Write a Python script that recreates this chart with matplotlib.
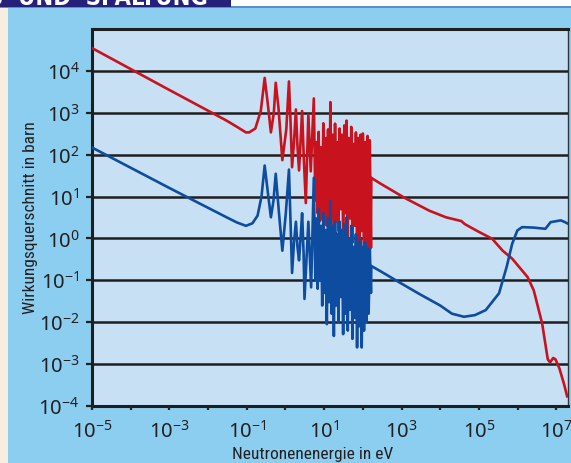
import matplotlib
matplotlib.use('Agg')
import matplotlib.pyplot as plt
from matplotlib.patches import Rectangle
from matplotlib.ticker import FixedLocator, NullLocator

# red curve, below the resonance region (eV, barn)
red_energy_low = [1e-5, 1e-3, 3e-2, 5.6e-2, 0.095, 0.115, 0.166, 0.23, 0.29,
                  0.35, 0.42, 0.50, 0.56, 0.66, 0.83, 1.05, 1.23, 1.35,
                  1.48, 1.66, 1.86, 2.04, 2.24, 2.45, 2.69, 2.95, 3.35,
                  3.9, 4.5, 5.4]
red_sigma_low = [3.5e4, 3.5e3, 6.5e2, 4.6e2, 3.4e2, 3.4e2, 4.2e2, 1.1e3,
                 6.8e3, 1.6e3, 3.4e2, 1.0e3, 5.2e3, 1.3e3, 74, 4.0e2, 5.6e3,
                 6.3e2, 50, 2.0e2, 1.2e3, 1.6e2, 42, 2.0e2, 1.1e3, 1.0e2, 7,
                 9.0e2, 40, 2.2e3]

# blue curve, below the resonance region
blue_energy_low = [1e-5, 1e-3, 3e-2, 5.6e-2, 0.095, 0.14, 0.19, 0.24, 0.29,
                   0.35, 0.42, 0.49, 0.56, 0.68, 0.83, 1.02, 1.23, 1.35,
                   1.48, 1.66, 1.86, 2.04, 2.24, 2.45, 2.69, 2.95, 3.1,
                   3.9, 4.6, 5.4]
blue_sigma_low = [148, 16, 3.2, 2.4, 2.0, 2.3, 3.5, 10, 55, 12.6, 3.2, 8,
                  35, 4, 0.51, 4, 44, 2.5, 0.15, 0.8, 2.5, 0.63, 0.3, 1.0,
                  4, 0.4, 0.036, 2.5, 0.068, 28]

# dense resonance region
resonance_energy = [5.9, 6.3, 6.8, 7.2, 7.8, 8.3, 8.9, 9.5, 10.2, 11.0,
                    11.7, 12.6, 13.5, 14.5, 15.5, 16.6, 17.8, 19.1, 20.4,
                    21.9, 23.4, 25.1, 26.9, 28.8, 30.9, 33.1, 35.5, 38.0,
                    40.7, 43.7, 46.8, 50.1, 53.7, 57.5, 61.7, 66.1, 70.8,
                    75.9, 81.3, 87.1, 93.3, 100, 107, 115, 123, 132, 141,
                    151, 162]
red_sigma_res = [8, 200, 4, 350, 2.6, 150, 3, 560, 3, 250,
                 2, 400, 3, 1800, 3, 300, 1.4, 550, 2.5, 200,
                 1.5, 420, 5, 300, 1.3, 500, 4, 650, 1.1, 250,
                 3, 460, 0.8, 180, 2, 340, 0.5, 250, 0.43, 300,
                 1.5, 320, 0.5, 200, 0.8, 280, 0.56, 220, 0.6]
blue_sigma_res = [0.1, 3, 0.063, 5, 0.1, 2, 0.025, 4, 0.05, 1.6,
                  0.009, 3, 0.03, 8, 0.016, 2, 0.0047, 2.5, 0.025, 1.3,
                  0.01, 2.5, 0.04, 1.6, 0.0052, 2.2, 0.016, 3.2, 0.0063, 1.0,
                  0.02, 2, 0.004, 0.63, 0.0126, 1.26, 0.0025, 0.8, 0.008, 1.0,
                  0.0025, 0.63, 0.0063, 0.8, 0.01, 0.56, 0.016, 0.56, 0.05]

# above the resonance region
red_energy_high = [165, 270, 1.2e3, 5.2e3, 1.4e4, 3.5e4, 4.3e4, 9.1e4,
                   2.2e5, 4.1e5, 7.2e5, 1.8e6, 2.6e6, 4.3e6, 6.0e6, 6.9e6,
                   8.3e6, 9.5e6, 1.2e7, 1.6e7, 1.9e7]
red_sigma_high = [28, 21, 9.3, 4.6, 3.2, 2.6, 2.2, 1.5, 0.98, 0.51, 0.33,
                  0.12, 0.058, 0.0093, 1.3e-3, 1.1e-3, 1.4e-3, 1.3e-3,
                  7.9e-4, 3.2e-4, 1.7e-4]
blue_energy_high = [165, 270, 850, 2.8e3, 1e4, 2e4, 4.1e4, 7.9e4, 1.5e5,
                    3.3e5, 5.2e5, 7.2e5, 9.8e5, 1.3e6, 2.5e6, 5.2e6, 6.0e6,
                    7.1e6, 1.3e7, 1.6e7, 1.9e7]
blue_sigma_high = [0.22, 0.17, 0.091, 0.048, 0.025, 0.016, 0.0135, 0.0148,
                   0.0195, 0.049, 0.21, 0.74, 1.55, 1.86, 1.82, 1.7, 2.0,
                   2.45, 2.7, 2.5, 2.3]

x_tick_exp = [-5, -4, -3, -2, -1, 0, 1, 2, 3, 4, 5, 6, 7]
x_label_exp = [-5, -3, -1, 1, 3, 5, 7]
y_tick_exp = [-4, -3, -2, -1, 0, 1, 2, 3, 4]

plt.rcParams['font.family'] = ['Roboto Condensed', 'Liberation Sans Narrow',
                               'Noto Sans', 'DejaVu Sans']
plt.rcParams['font.stretch'] = 'condensed'
plt.rcParams['mathtext.fontset'] = 'custom'
plt.rcParams['mathtext.rm'] = 'Noto Sans:stretch=condensed'
plt.rcParams['mathtext.it'] = 'Noto Sans:italic:stretch=condensed'
plt.rcParams['mathtext.bf'] = 'Noto Sans:bold:stretch=condensed'

W, H = 571, 463
fig = plt.figure(figsize=(W / 100, H / 100), dpi=100)
fig.patch.set_facecolor('#8CCEF0')

# page decoration: header bar, white strip, cream margin
fig.patches.append(Rectangle((0, 1 - 7 / H), 1, 7 / H, transform=fig.transFigure,
                             facecolor='white', edgecolor='none', zorder=0))
fig.patches.append(Rectangle((0, 1 - 7.5 / H), 1, 1.2 / H,
                             transform=fig.transFigure,
                             facecolor='#5A8FC8', edgecolor='none', zorder=0))
fig.patches.append(Rectangle((0, 1 - 6.5 / H), 231 / W, 6.5 / H,
                             transform=fig.transFigure,
                             facecolor='#25207A', edgecolor='none', zorder=1))
fig.patches.append(Rectangle((0, 0), 8 / W, 1 - 7.5 / H,
                             transform=fig.transFigure,
                             facecolor='#F7EEDF', edgecolor='none', zorder=1))
fig.text(208 / W, 1 - 5 / H, 'S  UND  SPALTUNG', color='white',
         fontsize=17, fontweight='bold', family='DejaVu Sans',
         ha='right', va='baseline', zorder=2)

ax = fig.add_axes([92 / W, 1 - 406 / H, (568 - 92) / W, (406 - 29) / H])
ax.set_facecolor('#C7E0F3')

ax.plot(red_energy_low + resonance_energy + red_energy_high,
        red_sigma_low + red_sigma_res + red_sigma_high,
        color='#C8131E', lw=1.9, solid_joinstyle='round', zorder=3)
ax.plot(blue_energy_low + resonance_energy + blue_energy_high,
        blue_sigma_low + blue_sigma_res + blue_sigma_high,
        color='#0D4C9F', lw=1.9, solid_joinstyle='round', zorder=4)

ax.set_xscale('log')
ax.set_yscale('log')
ax.set_xlim(1e-5, 2e7)
ax.set_ylim(1e-4, 1e5)

ax.xaxis.set_major_locator(FixedLocator([10.0 ** e for e in x_tick_exp]))
ax.xaxis.set_minor_locator(NullLocator())
ax.set_xticklabels(['$10^{%d}$' % e if e in x_label_exp else ''
                    for e in x_tick_exp])
ax.yaxis.set_major_locator(FixedLocator([10.0 ** e for e in y_tick_exp]))
ax.yaxis.set_minor_locator(NullLocator())
ax.set_yticklabels(['$10^{%d}$' % e for e in y_tick_exp])

ax.tick_params(axis='both', labelsize=14.5, colors='#222222',
               labelcolor='#231F20', direction='out', width=1.6)
ax.tick_params(axis='x', length=3, pad=7)
ax.tick_params(axis='y', length=4, pad=5)

ax.grid(True, axis='y', color='#1E1E1E', lw=1.8, zorder=2)
ax.set_axisbelow(False)
for side in ['left', 'bottom', 'top']:
    ax.spines[side].set_linewidth(2.2)
    ax.spines[side].set_color('#1E1E1E')
ax.spines['right'].set_linewidth(1.0)
ax.spines['right'].set_color('#333333')

ax.set_ylabel('Wirkungsquerschnitt in barn', fontsize=12.5, color='#231F20')
ax.yaxis.set_label_coords(-0.113, 0.5)
fig.text(313 / W, 1 - 447 / H, 'Neutronenenergie in eV', fontsize=12.5,
         color='#231F20', ha='center', va='top')

fig.savefig('out.png', dpi=100, facecolor=fig.get_facecolor())
